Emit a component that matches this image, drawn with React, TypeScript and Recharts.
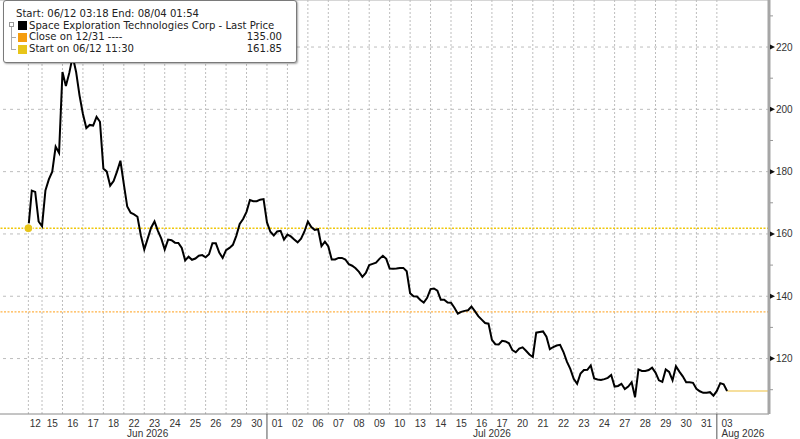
import React from 'react';
import { LineChart, Line, XAxis, YAxis, ReferenceLine, ReferenceDot } from 'recharts';

if (typeof document !== 'undefined') {
  document.body.style.margin = '0';
}

// ---- categories (trading sessions) ----
const dayLabels = [
  '12', '15', '16', '17', '18', '22', '23', '24', '25', '26', '29', '30',
  '01', '02', '06', '07', '08', '09', '10', '13', '14', '15', '16', '17', '20', '21', '22', '23', '24', '27', '28', '29', '30', '31',
  '03',
];
const monthLabels = ['Jun 2026', 'Jul 2026', 'Aug 2026'];
const monthFirstDay = [0, 12, 34];

const SAMPLES_PER_DAY = 6;
const firstSessionStart = -2 / 3; // Jun 12 session opened at 11:30

// ---- prices, one sub-array per session (6 samples per full session) ----
const wkJun12 = [[161.85, 173.9, 173.5, 164]];
const wkJun15 = [
  [162.5, 174, 177.5, 180, 188, 186],
  [212, 207.5, 211.7, 217, 212, 204.5],
  [198.5, 194, 195, 194.8, 197.6, 196],
  [181, 180, 175.5, 177, 180, 183.5],
];
const wkJun22 = [
  [176, 168.8, 166.8, 166.3, 165.5, 159.5],
  [155, 158.5, 162, 164, 161, 158.5],
  [155, 158.2, 158, 157.2, 157.1, 155.5],
  [151.5, 152.7, 151.7, 152.1, 153, 153.2],
  [152.5, 153.5, 157, 157, 154, 152.3],
];
const wkJun29 = [
  [154.8, 155.5, 156.5, 159.4, 163.2, 164.8],
  [167.1, 170.9, 170.5, 170.5, 171, 171.2],
  [163.7, 160.7, 159.5, 160.8, 161, 158.2],
  [159.8, 159.2, 158.2, 157.3, 158.5, 160.8],
];
const wkJul06 = [
  [164, 162.2, 161.3, 161.5, 156.1, 157.5],
  [156, 151.8, 151.8, 152.3, 152.3, 151.8],
  [150.3, 149.8, 149, 147.8, 146.2, 147.5],
  [150, 150.4, 150.8, 152, 153, 152],
  [148.9, 148.8, 148.9, 149.1, 149.1, 148],
];
const wkJul13 = [
  [141, 140, 139.9, 138.8, 138, 139.5],
  [142.3, 142.5, 141.8, 138.9, 138.9, 138],
  [137.9, 136.3, 134.4, 135, 135.3, 135.5],
  [136.7, 135.2, 133.6, 132.5, 131.4, 131.2],
  [126, 124.6, 124.5, 125.7, 125.5, 124.9],
];
const wkJul20 = [
  [122.7, 122, 123.2, 123.6, 122.5, 121.3],
  [120.5, 128.3, 128.5, 128.7, 127, 123],
  [123.7, 124.2, 124.4, 122.1, 119, 116.7],
  [113.5, 111.9, 115.2, 116.3, 116.4, 117.8],
  [113.6, 113.3, 113.1, 113.4, 113.8, 114.7],
];
const wkJul27 = [
  [111, 111.2, 111.9, 110.2, 111, 112.4],
  [107.6, 116.5, 116, 116, 116.3, 117.1],
  [115.5, 113, 112.5, 116.5, 115.7, 113],
  [117.5, 115.8, 114.3, 112.4, 112.4, 112.2],
  [110.3, 109.5, 109, 109, 109.2, 108.1],
];
const wkAug03 = [[109.6, 112.1, 111.7, 109.6]];

const closeOn1231 = 135.0;
const startPrice = 161.85;

const yMajorTicks = [120, 140, 160, 180, 200, 220];
const yAllTicks = [110, 120, 130, 140, 150, 160, 170, 180, 190, 200, 210, 220, 230];
const Y_MIN = 102.2;
const Y_MAX = 235.1;
const X_MIN = -2.055;
const X_MAX = 35.55;

// ---- build table ----
const sessions: number[][] = [
  ...wkJun12, ...wkJun15, ...wkJun22, ...wkJun29, ...wkJul06, ...wkJul13, ...wkJul20, ...wkJul27, ...wkAug03,
];
const sessionStart = (i: number) => (i === 0 ? firstSessionStart : i - 1);
const sessionEnd = (i: number) => i;

const data: { t: number; price: number }[] = [];
sessions.forEach((vals, i) => {
  const offset = i === 0 ? SAMPLES_PER_DAY - vals.length : 0;
  vals.forEach((v, k) => {
    data.push({ t: i - 1 + (offset + k) / SAMPLES_PER_DAY, price: v });
  });
});
const last = data[data.length - 1];

type TickDef = { value: number; kind: 'day' | 'month' | 'sep'; label?: string };
const tickDefs: TickDef[] = [];
dayLabels.forEach((lab, i) => {
  tickDefs.push({ value: (sessionStart(i) + sessionEnd(i)) / 2, kind: 'day', label: lab });
});
monthLabels.forEach((lab, m) => {
  const a = sessionStart(monthFirstDay[m]);
  const b = m + 1 < monthLabels.length ? sessionStart(monthFirstDay[m + 1]) : X_MAX;
  tickDefs.push({ value: (a + b) / 2, kind: 'month', label: lab });
  if (m > 0) tickDefs.push({ value: a, kind: 'sep' });
});
const sessionBoundaries = dayLabels.map((_, i) => sessionStart(i));

const FONT = "'Liberation Sans', Arial, sans-serif";
const LEGEND_FONT = "'DejaVu Sans', Verdana, sans-serif";

const XTick = (props: any) => {
  const { x, y, payload } = props;
  const def = tickDefs.find((t) => Math.abs(t.value - payload.value) < 1e-9);
  if (!def) return null;
  if (def.kind === 'sep') {
    return <line x1={x} x2={x} y1={y} y2={y + 26} stroke="#555" strokeWidth={1} />;
  }
  return (
    <text
      x={x}
      y={def.kind === 'day' ? y + 9 : y + 19.5}
      textAnchor="middle"
      dominantBaseline="central"
      fontSize={10}
      fontFamily={FONT}
      fill="#333"
    >
      {def.label}
    </text>
  );
};

const YTick = (props: any) => {
  const { x, y, payload } = props;
  const v = payload.value as number;
  if (yMajorTicks.includes(v)) {
    return (
      <g>
        <polygon points={`${x + 1},${y - 2.5} ${x + 6},${y} ${x + 1},${y + 2.5}`} fill="#111" />
        <text x={x + 7} y={y} dominantBaseline="central" fontSize={10} fontFamily={FONT} fill="#333">
          {v}
        </text>
      </g>
    );
  }
  return <line x1={x + 1} x2={x + 4} y1={y} y2={y} stroke="#999" strokeWidth={1} />;
};

const row = (top: number): React.CSSProperties => ({
  position: 'absolute',
  top,
  height: 12,
  lineHeight: '12px',
  whiteSpace: 'nowrap',
});
const square = (top: number, color: string): React.CSSProperties => ({
  position: 'absolute',
  left: 14,
  top,
  width: 9,
  height: 9,
  background: color,
});

const LegendBox = () => (
  <div
    style={{
      position: 'absolute',
      left: 3,
      top: 0,
      width: 294,
      height: 63,
      boxSizing: 'border-box',
      border: '1px solid #7a7a7a',
      borderRadius: 3,
      boxShadow: '1px 1px 2px rgba(0,0,0,0.35)',
      background: '#fff',
      fontFamily: LEGEND_FONT,
      fontSize: 10.1,
      color: '#222',
    }}
  >
    <div style={{ ...row(7), left: 12 }}>Start: 06/12 03:18 End: 08/04 01:54</div>
    <div style={{ position: 'absolute', left: 5, top: 21, width: 3, height: 3, border: '1px solid #999' }} />
    <div style={{ position: 'absolute', left: 7, top: 26, width: 1, height: 22, background: '#aaa' }} />
    <div style={{ position: 'absolute', left: 7, top: 36, width: 5, height: 1, background: '#aaa' }} />
    <div style={{ position: 'absolute', left: 7, top: 48, width: 5, height: 1, background: '#aaa' }} />
    <div style={square(20, '#000')} />
    <div style={{ ...row(18.5), left: 25 }}>Space Exploration Technologies Corp - Last Price</div>
    <div style={square(31.5, '#f59d0e')} />
    <div style={{ ...row(30), left: 25 }}>Close on 12/31 ----</div>
    <div style={{ ...row(30), right: 14 }}>{closeOn1231.toFixed(2)}</div>
    <div style={square(43.5, '#e8c51a')} />
    <div style={{ ...row(42), left: 25 }}>Start on 06/12 11:30</div>
    <div style={{ ...row(42), right: 14 }}>{startPrice.toFixed(2)}</div>
  </div>
);

export default function App() {
  return (
    <div style={{ position: 'relative', width: 800, height: 439, background: '#fff' }}>
      <LineChart width={800} height={439} data={data} margin={{ top: 0, right: 0, bottom: 0, left: 0 }}>
        <XAxis
          dataKey="t"
          type="number"
          domain={[X_MIN, X_MAX]}
          allowDataOverflow
          ticks={tickDefs.map((t) => t.value)}
          interval={0}
          tick={<XTick />}
          tickLine={false}
          tickSize={0}
          tickMargin={0}
          height={25}
          axisLine={{ stroke: '#8a8a8a', strokeWidth: 1 }}
        />
        <YAxis
          orientation="right"
          type="number"
          domain={[Y_MIN, Y_MAX]}
          allowDataOverflow
          ticks={yAllTicks}
          interval={0}
          tick={<YTick />}
          tickLine={false}
          tickSize={0}
          tickMargin={0}
          width={31}
          axisLine={{ stroke: '#a6a6a6', strokeWidth: 3 }}
        />
        <ReferenceLine y={Y_MAX} stroke="#c8c8c8" strokeWidth={1.5} />
        {sessionBoundaries.map((b, i) => (
          <ReferenceLine key={`v${i}`} x={b} stroke="#bdbdbd" strokeDasharray="2 2" strokeWidth={1} />
        ))}
        {yMajorTicks.map((v) => (
          <ReferenceLine key={`h${v}`} y={v} stroke="#bdbdbd" strokeDasharray="3 4" strokeWidth={1} />
        ))}
        <ReferenceLine y={closeOn1231} stroke="#ffb347" strokeDasharray="2 1.5" strokeWidth={1.2} />
        <ReferenceLine y={startPrice} stroke="#efc80c" strokeDasharray="2 1.5" strokeWidth={1.5} />
        <ReferenceLine
          segment={[
            { x: last.t, y: last.price },
            { x: X_MAX, y: last.price },
          ]}
          stroke="#f3d57c"
          strokeWidth={1.6}
        />
        <Line
          type="linear"
          dataKey="price"
          stroke="#000"
          strokeWidth={2}
          dot={false}
          isAnimationActive={false}
        />
        <ReferenceDot x={data[0].t} y={startPrice} r={3.5} fill="#e8c51a" stroke="#e8c51a" zIndex={2000} />
      </LineChart>
      <LegendBox />
    </div>
  );
}
